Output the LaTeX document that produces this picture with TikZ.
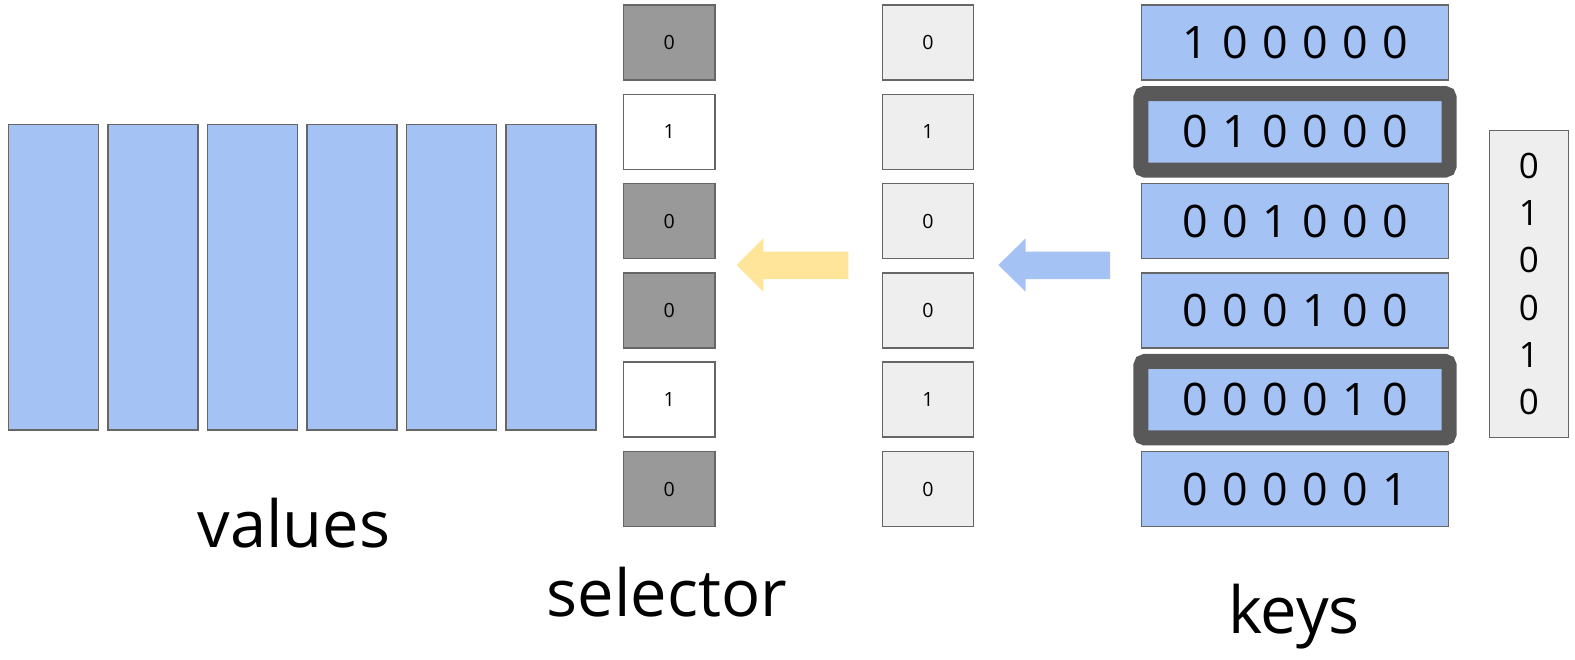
\documentclass[tikz,border=0pt]{standalone}
\usepackage{fontspec}
\setmainfont{Open Sans}
\definecolor{keyblue}{HTML}{A4C2F4}
\definecolor{selgray}{HTML}{999999}
\definecolor{lightgray}{HTML}{EEEEEE}
\definecolor{edge}{HTML}{666666}
\definecolor{hilite}{HTML}{595959}
\definecolor{arrowyellow}{HTML}{FFE599}
% six digits of a one-hot key, evenly spaced
\newcommand\bitrow[6]{#1\hspace{7.2pt}#2\hspace{7.2pt}#3\hspace{7.2pt}#4\hspace{7.2pt}#5\hspace{7.2pt}#6}
\tikzset{
  cell/.style={draw=edge, line width=0.75pt, inner sep=0pt,
    minimum height=37.5pt, font=\fontsize{9.8}{11}\selectfont},
  selcell/.style={cell, minimum width=45.8pt},
  midcell/.style={cell, minimum width=45.3pt, fill=lightgray},
  keycell/.style={cell, minimum width=153.3pt, fill=keyblue,
    font=\fontsize{22.4}{24}\selectfont},
  chosen/.style={draw=hilite, line width=7.5pt, rounded corners=2pt},
  valbar/.style={draw=edge, line width=0.75pt, fill=keyblue, inner sep=0pt,
    minimum width=45pt, minimum height=152.8pt},
  caption/.style={inner sep=0pt, anchor=base, font=\fontsize{32.5}{35}\selectfont},
}
\begin{document}
\begin{tikzpicture}[x=0.5pt, y=-0.5pt]
\useasboundingbox (0,0) rectangle (1575,659);

% values
\foreach \i in {0,...,5}
  \node[valbar] (v\i) at ({53.5+99.5*\i}, 277.2) {};
\node[caption] (valueslabel) at (294, 547) {values};

% selector column
\foreach \i/\b/\c in {0/0/selgray, 1/1/white, 2/0/selgray, 3/0/selgray, 4/1/white, 5/0/selgray}
  \node[selcell, fill=\c] (s\i) at (669.2, {42.5+89.3*\i}) {\b};
\node[caption] (selectorlabel) at (667, 616) {selector};

% raw match column
\foreach \i/\b in {0/0, 1/1, 2/0, 3/0, 4/1, 5/0}
  \node[midcell] (m\i) at (928, {42.5+89.3*\i}) {\b};

% keys
\node[keycell] (k0) at (1295, 42.5)  {\bitrow100000};
\node[keycell] (k1) at (1295, 131.8) {};
\node[keycell] (k2) at (1295, 221.1) {\bitrow001000};
\node[keycell] (k3) at (1295, 310.4) {\bitrow000100};
\node[keycell] (k4) at (1295, 399.7) {};
\node[keycell] (k5) at (1295, 489.0) {\bitrow000001};
\draw[chosen] (k1.north west) rectangle (k1.south east);
\draw[chosen] (k4.north west) rectangle (k4.south east);
\node[keycell, draw=none, fill=none] (k1text) at (k1) {\bitrow010000};
\node[keycell, draw=none, fill=none] (k4text) at (k4) {\bitrow000010};
\node[caption] (keyslabel) at (1294, 633) {keys};

% query vector
\node[draw=edge, line width=0.75pt, fill=lightgray, inner sep=0pt,
      minimum width=39.5pt, minimum height=153.3pt, align=center,
      font=\fontsize{17.5}{23.6}\selectfont] (q) at (1528.8, 284)
      {0\\1\\0\\0\\1\\0};

% block arrows
\fill[arrowyellow] (848.3,251.7) -- (763.3,251.7) -- (763.3,238.3) -- (736.7,265)
  -- (763.3,291.7) -- (763.3,279) -- (848.3,279) -- cycle;
\fill[keyblue] (1110,251.7) -- (1025.7,251.7) -- (1025.7,238.3) -- (998.3,265)
  -- (1025.7,291.7) -- (1025.7,279) -- (1110,279) -- cycle;
\end{tikzpicture}
\end{document}
